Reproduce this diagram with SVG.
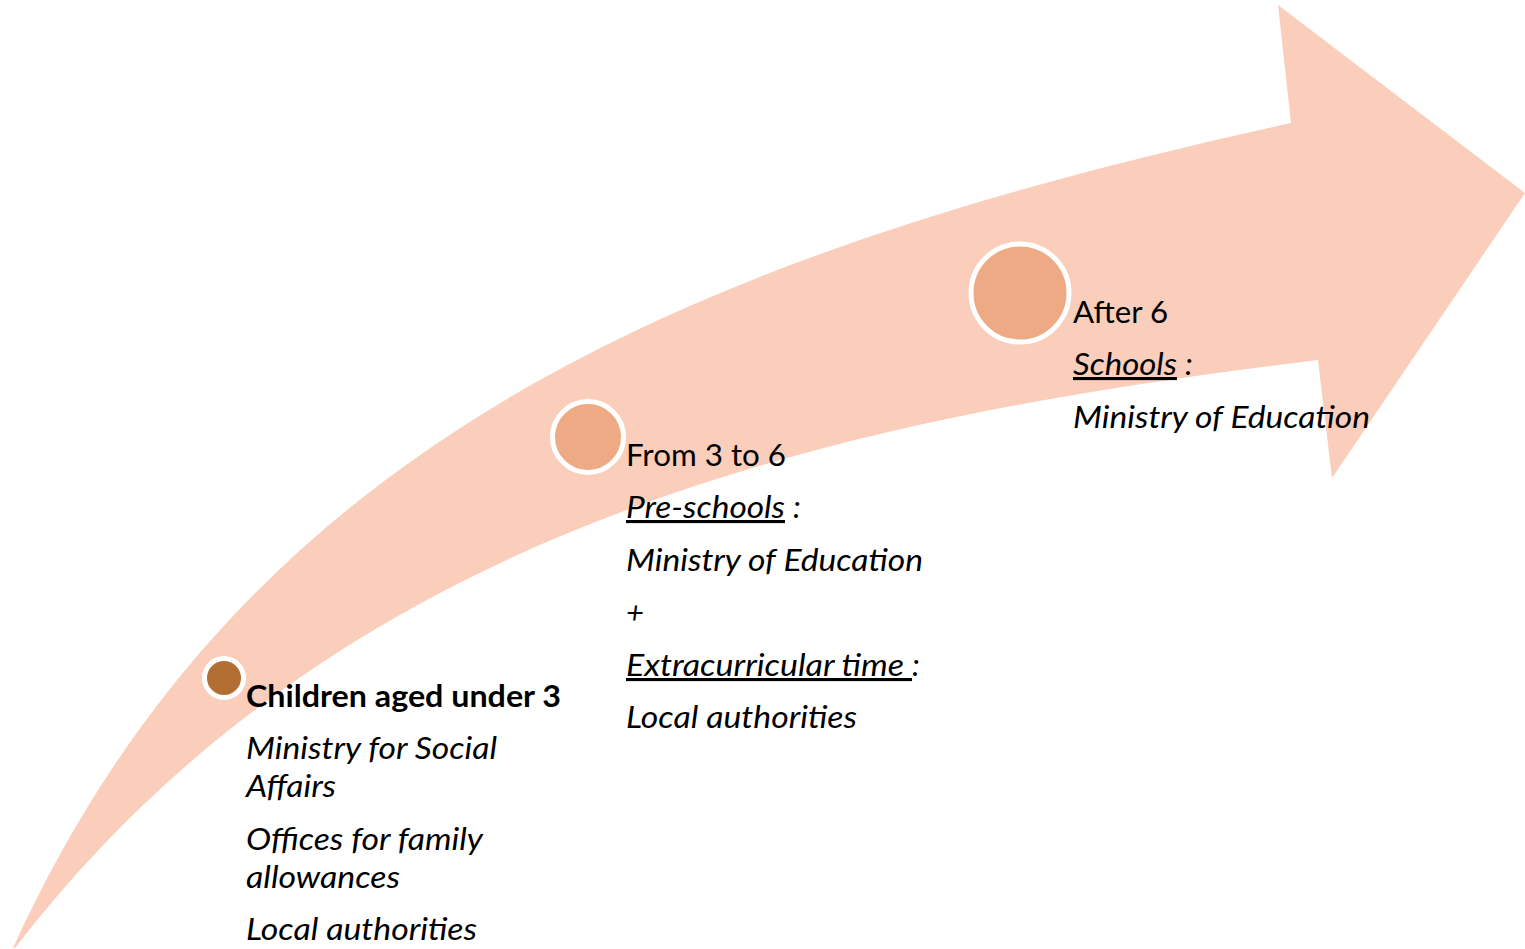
<svg xmlns="http://www.w3.org/2000/svg" width="1525" height="949" viewBox="0 0 1525 949">
<style>
.band{fill:#FACEBA;stroke:none}
.dot{stroke:#FFFFFF;stroke-width:5}
.light{fill:#EEAA84}
.dark{fill:#B36E33}
text{font-family:Lato,"Open Sans","Liberation Sans",sans-serif;font-size:31px;fill:#000000}
.b{font-weight:bold}
.i{font-style:italic}
.u{text-decoration:underline}
</style>
<rect x="0" y="0" width="1525" height="949" fill="#FFFFFF"/>
<g id="arrow">
<path class="band" d="M13,948 C243,442 691,255 1291,123 L1278,5 L1525,193 L1332,478 L1318,360 C818,420 335,532 15,948 Z"/>
</g>
<g id="connectors"></g>
<g id="node-under3">
<circle class="dot dark" cx="224" cy="678" r="19.5"/>
<text class="b" x="246" y="707" textLength="315" lengthAdjust="spacingAndGlyphs">Children aged under 3</text>
<text class="i" x="246" y="759" textLength="251" lengthAdjust="spacingAndGlyphs">Ministry for Social</text>
<text class="i" x="246" y="797" textLength="90" lengthAdjust="spacingAndGlyphs">Affairs</text>
<text class="i" x="246" y="850" textLength="237" lengthAdjust="spacingAndGlyphs">Offices for family</text>
<text class="i" x="246" y="888" textLength="154" lengthAdjust="spacingAndGlyphs">allowances</text>
<text class="i" x="246" y="940" textLength="231" lengthAdjust="spacingAndGlyphs">Local authorities</text>
</g>
<g id="node-3to6">
<circle class="dot light" cx="588" cy="437" r="35.5"/>
<text x="626" y="466" textLength="160" lengthAdjust="spacingAndGlyphs">From 3 to 6</text>
<text class="i u" x="626" y="518" textLength="159" lengthAdjust="spacingAndGlyphs">Pre-schools</text>
<text class="i" x="793" y="518">:</text>
<text class="i" x="626" y="571" textLength="297" lengthAdjust="spacingAndGlyphs">Ministry of Education</text>
<text class="i" x="626" y="623">+</text>
<text class="i u" x="626" y="676" textLength="286" lengthAdjust="spacingAndGlyphs" xml:space="preserve">Extracurricular time </text>
<text class="i" x="912" y="676">:</text>
<text class="i" x="626" y="728" textLength="231" lengthAdjust="spacingAndGlyphs">Local authorities</text>
</g>
<g id="node-after6">
<circle class="dot light" cx="1020" cy="293" r="49"/>
<text x="1073" y="323" textLength="95" lengthAdjust="spacingAndGlyphs">After 6</text>
<text class="i u" x="1073" y="375" textLength="104" lengthAdjust="spacingAndGlyphs">Schools</text>
<text class="i" x="1185" y="375">:</text>
<text class="i" x="1073" y="428" textLength="297" lengthAdjust="spacingAndGlyphs">Ministry of Education</text>
</g>
</svg>
